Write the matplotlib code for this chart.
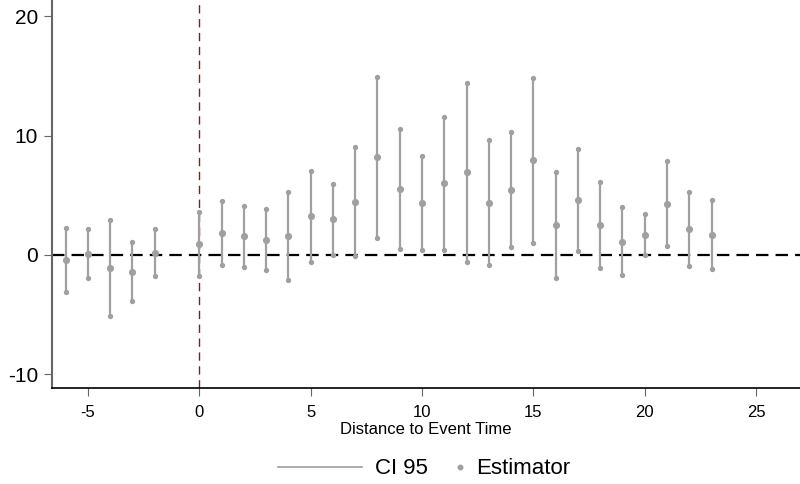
import numpy as np
import matplotlib
matplotlib.use('Agg')
import matplotlib.pyplot as plt
from matplotlib.lines import Line2D

plt.rcParams['font.family'] = ['Liberation Sans', 'DejaVu Sans']
plt.rcParams['axes.unicode_minus'] = False

# event time, point estimates and 95% CI bounds
t = [-6, -5, -4, -3, -2, 0, 1, 2, 3, 4, 5, 6, 7, 8, 9, 10, 11, 12, 13, 14,
     15, 16, 17, 18, 19, 20, 21, 22, 23]
est = [-0.45, 0.12, -1.06, -1.39, 0.2, 0.95, 1.85, 1.55, 1.26, 1.55, 3.23, 3.0,
       4.45, 8.18, 5.5, 4.34, 6.02, 6.92, 4.34, 5.46, 7.96, 2.52, 4.6, 2.52,
       1.12, 1.71, 4.29, 2.18, 1.71]
ci_hi = [2.24, 2.15, 2.97, 1.07, 2.2, 3.57, 4.54, 4.12, 3.87, 5.26, 7.06, 5.95,
         9.02, 14.93, 10.54, 8.26, 11.6, 14.4, 9.6, 10.34, 14.85, 6.97, 8.88,
         6.11, 4.0, 3.42, 7.87, 5.27, 4.6]
ci_lo = [-3.08, -1.95, -5.1, -3.89, -1.76, -1.72, -0.87, -1.0, -1.29, -2.07,
         -0.61, 0.03, -0.08, 1.45, 0.5, 0.42, 0.45, -0.56, -0.84, 0.67, 1.03,
         -1.96, 0.34, -1.07, -1.71, 0.0, 0.76, -0.9, -1.2]

grey = '#a0a0a0'

fig = plt.figure(figsize=(8, 4.84), dpi=100)
ax = fig.add_axes([0.065, 0.1983, 0.935, 0.8017])

ax.axhline(0, color='black', lw=1.6, ls=(0, (5.6, 3.2)), zorder=1)
ax.axvline(0, color='#8b1a1a', lw=1, ls=(0, (6, 4)), zorder=1)

ax.vlines(t, ci_lo, ci_hi, color=grey, lw=1.6, zorder=2)
ax.scatter(t, ci_lo, s=8, color=grey, zorder=3)
ax.scatter(t, ci_hi, s=8, color=grey, zorder=3)
ax.scatter(t, est, s=17, color=grey, zorder=3)

ax.set_xlim(-6.61, 26.97)
ax.set_ylim(-11.15, 21.37)
ax.set_xticks([-5, 0, 5, 10, 15, 20, 25])
ax.set_yticks([-10, 0, 10, 20])
ax.tick_params(axis='y', labelsize=15, length=6, color='#666666', pad=4)
ax.tick_params(axis='x', labelsize=12, length=6, color='#666666', pad=6)
ax.set_xlabel('Distance to Event Time', fontsize=12, labelpad=2)

for s in ['top', 'right']:
    ax.spines[s].set_visible(False)
ax.spines['left'].set_color('#666666')
ax.spines['left'].set_linewidth(1.5)
ax.spines['bottom'].set_color('black')
ax.spines['bottom'].set_linewidth(1.2)

ci_handle = [Line2D([], [], color=grey, lw=1.2)]
est_handle = [Line2D([], [], color=grey, marker='o', ls='', markersize=3.2)]
leg1 = fig.legend(ci_handle, ['CI 95'], loc='center right',
                  bbox_to_anchor=(0.535, 0.031), frameon=False, fontsize=16,
                  handlelength=3.8, handletextpad=0.59, borderpad=0,
                  borderaxespad=0)
leg2 = fig.legend(est_handle, ['Estimator'], loc='center left',
                  bbox_to_anchor=(0.567, 0.031), frameon=False, fontsize=16,
                  handlelength=0.6, handletextpad=0.42, borderpad=0,
                  borderaxespad=0)

fig.savefig('out.png', dpi=100)
